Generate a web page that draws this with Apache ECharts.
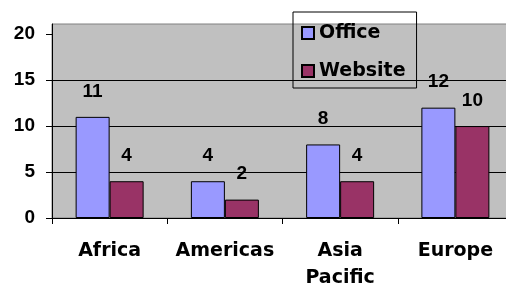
<!DOCTYPE html>
<html>
<head>
<meta charset="utf-8">
<script src="https://cdn.jsdelivr.net/npm/echarts@6.0.0/dist/echarts.min.js"></script>
<style>
  html, body { margin: 0; padding: 0; background: #fff; }
  #chart { width: 506px; height: 287px; }
</style>
</head>
<body>
<div id="chart"></div>
<script>
const regions = ["Africa", "Americas", "Asia Pacific", "Europe"];
const officeValues = [11, 4, 8, 12];
const websiteValues = [4, 2, 4, 10];
const yTicks = [0, 5, 10, 15, 20];

const textFont = "DejaVu Sans";
const numFont = "Liberation Sans";

const chart = echarts.init(document.getElementById("chart"), null, { renderer: "canvas" });

const barLabel = {
  show: true,
  position: "top",
  distance: 16,
  color: "#000",
  fontFamily: numFont,
  fontWeight: "bold",
  fontSize: 19
};

chart.setOption({
  animation: false,
  backgroundColor: "#fff",
  grid: {
    left: 52,
    right: -7,
    top: 24,
    bottom: 69,
    outerBoundsMode: "none",
    containLabel: false,
    show: true,
    backgroundColor: "#C0C0C0",
    borderColor: "#808080",
    borderWidth: 1
  },
  legend: {
    left: 293,
    top: 12,
    orient: "vertical",
    padding: [11, 11, 7, 8],
    itemGap: 18,
    itemWidth: 12,
    itemHeight: 12,
    icon: "rect",
    borderColor: "#000",
    borderWidth: 1,
    backgroundColor: "transparent",
    textStyle: {
      color: "#000",
      fontFamily: textFont,
      fontWeight: "bold",
      fontSize: 19,
      lineHeight: 20
    },
    data: ["Office", "Website"]
  },
  xAxis: {
    type: "category",
    data: regions,
    axisLine: { show: true, lineStyle: { color: "#000", width: 1 } },
    axisTick: { show: true, length: 6, lineStyle: { color: "#000" } },
    axisLabel: {
      color: "#000",
      fontFamily: textFont,
      fontWeight: "bold",
      fontSize: 19,
      lineHeight: 27,
      margin: 20,
      interval: 0,
      formatter: (v) => v.replace(" ", "\n")
    },
    splitLine: { show: false }
  },
  yAxis: {
    type: "value",
    min: 0,
    max: 21.1,
    interval: 5,
    axisLine: { show: true, lineStyle: { color: "#000", width: 1 } },
    axisTick: { show: true, length: 6, customValues: yTicks, lineStyle: { color: "#000" } },
    axisLabel: {
      color: "#000",
      fontFamily: numFont,
      fontWeight: "bold",
      fontSize: 19,
      margin: 17,
      customValues: yTicks
    },
    splitLine: { show: true, showMaxLine: false, lineStyle: { color: "#000", width: 1 } }
  },
  series: [
    {
      name: "Office",
      type: "bar",
      data: officeValues,
      barWidth: 34,
      barGap: "0%",
      itemStyle: { color: "#9999FF", borderColor: "#000", borderWidth: 1 },
      label: barLabel
    },
    {
      name: "Website",
      type: "bar",
      data: websiteValues,
      barWidth: 34,
      barGap: "0%",
      itemStyle: { color: "#993366", borderColor: "#000", borderWidth: 1 },
      label: barLabel
    }
  ]
});
</script>
</body>
</html>
